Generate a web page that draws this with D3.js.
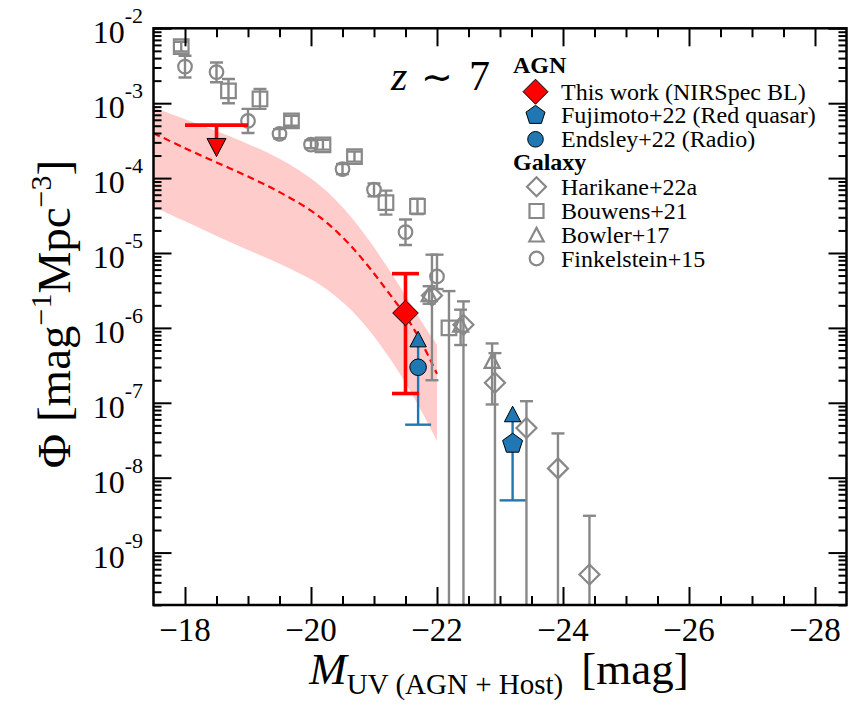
<!DOCTYPE html>
<html><head><meta charset="utf-8">
<script src="https://cdn.jsdelivr.net/npm/d3@7"></script>
<style>
body{margin:0;background:#fff}
svg{display:block}
text{font-family:"Liberation Serif","Times New Roman",serif;fill:#000}
</style>
</head><body>
<svg id="c" width="855" height="712"></svg>
<script>
// ---------------- data ----------------
const xMajorTicks = [-18,-20,-22,-24,-26,-28];
const xTickLabels = ["−18","−20","−22","−24","−26","−28"];
const yTickExponents = [-2,-3,-4,-5,-6,-7,-8,-9];

// model (dashed line) and shaded range
const bandM    = [-17.5,-18.0,-18.5,-19.0,-19.5,-20.0,-20.3,-20.6,-20.9,-21.2,-21.5,-21.75,-22.0];
const modelPhi = [3.98e-4,2.51e-4,1.62e-4,1.05e-4,6.5e-5,3.67e-5,2.34e-5,1.33e-5,6.8e-6,3.2e-6,1.45e-6,6.5e-7,2.43e-7];
const bandHi   = [8.75e-4,6.12e-4,4.26e-4,2.86e-4,1.81e-4,9.9e-5,6.1e-5,3.29e-5,1.56e-5,6.7e-6,2.7e-6,1.23e-6,6.0e-7];
const bandLo   = [4.15e-5,2.65e-5,1.69e-5,1.1e-5,7.2e-6,4.45e-6,3.04e-6,1.85e-6,9.8e-7,4.5e-7,1.84e-7,7.8e-8,3.1e-8];

// Galaxy: Bouwens+21 (squares)
const bouwensM   = [-17.94,-18.69,-19.19,-19.69,-20.19,-20.69,-21.19,-21.69,-22.19];
const bouwensPhi = [5.7e-3,1.46e-3,1.14e-3,5.8e-4,2.78e-4,1.94e-4,4.7e-5,4.2e-5,1.0e-6];
const bouwensLo  = [4.9e-3,1.0e-3,8.4e-4,5.0e-4,2.4e-4,1.66e-4,3.25e-5,3.3e-5,1e-14];
const bouwensHi  = [6.6e-3,2.1e-3,1.55e-3,6.8e-4,3.25e-4,2.27e-4,6.8e-5,5.3e-5,3.1e-6];

// Galaxy: Finkelstein+15 (circles)
const finkM   = [-18.0,-18.5,-19.0,-19.5,-20.0,-20.5,-21.0,-21.5,-22.0];
const finkPhi = [3.08e-3,2.6e-3,5.8e-4,3.9e-4,2.8e-4,1.32e-4,7.0e-5,1.9e-5,4.85e-6];
const finkLo  = [2.2e-3,1.9e-3,4.0e-4,3.4e-4,2.5e-4,1.13e-4,5.7e-5,1.28e-5,3.3e-6];
const finkHi  = [4.3e-3,3.5e-3,8.4e-4,4.5e-4,3.2e-4,1.54e-4,8.5e-5,2.8e-5,9.5e-6];

// Galaxy: Bowler+17 (triangles)
const bowlerM   = [-21.875,-22.375,-22.875];
const bowlerPhi = [2.8e-6,1.1e-6,3.6e-7];
const bowlerLo  = [2.1e-6,5.9e-7,9.5e-8];
const bowlerHi  = [3.6e-6,1.75e-6,6.2e-7];

// Galaxy: Harikane+22a (diamonds)
const harikaneM   = [-21.92,-22.42,-22.92,-23.42,-23.92,-24.42];
const harikanePhi = [2.7e-6,1.1e-6,1.85e-7,4.6e-8,1.33e-8,5.1e-10];
const harikaneLo  = [2.0e-7,1e-14,1e-14,1e-14,1e-14,1e-14];
const harikaneHi  = [9.5e-6,2.26e-6,4.6e-7,1.05e-7,3.9e-8,3.1e-9];

// AGN: this work
const thisWorkM = [-21.5], thisWorkPhi = [1.58e-6], thisWorkLo = [1.33e-7], thisWorkHi = [5.3e-6];
const limitM = [-18.5], limitMLo = [-18.0], limitMHi = [-19.0], limitPhi = [5.1e-4], limitArrowPhi = [2.6e-4];
// AGN: Endsley+22 (circle, lower limit), Fujimoto+22 (pentagon, lower limit)
const endsleyM = [-21.7], endsleyPhi = [2.98e-7], endsleyLo = [5.1e-8], endsleyArrowPhi = [7.0e-7];
const fujimotoM = [-23.2], fujimotoPhi = [2.84e-8], fujimotoLo = [4.98e-9], fujimotoArrowPhi = [7.0e-8];

const agnLegend = ["This work (NIRSpec BL)","Fujimoto+22 (Red quasar)","Endsley+22 (Radio)"];
const galLegend = ["Harikane+22a","Bouwens+21","Bowler+17","Finkelstein+15"];

// ---------------- setup ----------------
const W = 855, H = 712;
const L = 153.5, R = 846.5, T = 28.3, B = 605;
const RED = "#ff0000", BLUE = "#1f77b4", GRAY = "#888888", PINK = "#ffcccc";

const svg = d3.select("#c");
const x = d3.scaleLinear().domain([-17.5,-28.5]).range([L,R]);
const y = d3.scaleLog().domain([Math.pow(10,-9.7),1e-2]).range([B,T]);

svg.append("defs").append("clipPath").attr("id","clip")
  .append("rect").attr("x",L).attr("y",T).attr("width",R-L).attr("height",B-T);
const plot = svg.append("g").attr("clip-path","url(#clip)");

// shape helpers
const polyPath = pts => "M" + pts.map(p=>p[0].toFixed(2)+","+p[1].toFixed(2)).join("L") + "Z";
const shapes = {
  diamond: r => polyPath([[0,-r],[r,0],[0,r],[-r,0]]),
  square: r => polyPath([[-r,-r],[r,-r],[r,r],[-r,r]]),
  triUp: r => polyPath([[0,-r],[r,r*0.9],[-r,r*0.9]]),
  triDown: r => polyPath([[0,r],[r,-r*0.9],[-r,-r*0.9]]),
  circle: r => `M${-r},0A${r},${r} 0 1,0 ${r},0A${r},${r} 0 1,0 ${-r},0Z`,
  pentagon: r => polyPath(d3.range(5).map(k=>{const a=(-90+72*k)*Math.PI/180;return [r*Math.cos(a), r*Math.sin(a)];}))
};

// ---------------- band & model ----------------
const bandData = bandM.map((m,i)=>({m, lo:bandLo[i], hi:bandHi[i], v:modelPhi[i]}));
const crv = d3.curveCatmullRom.alpha(0.5);
plot.append("path").datum(bandData)
  .attr("d", d3.area().x(d=>x(d.m)).y0(d=>y(d.lo)).y1(d=>y(d.hi)).curve(crv))
  .attr("fill", PINK).attr("stroke","none");
plot.append("path").datum(bandData)
  .attr("d", d3.line().x(d=>x(d.m)).y(d=>y(d.v)).curve(crv))
  .attr("fill","none").attr("stroke",RED).attr("stroke-width",2.2).attr("stroke-dasharray","7,4.5");

// ---------------- error bar helper ----------------
function errSeries(M, P, Lo, Hi, opt){
  const g = plot.append("g");
  const d = M.map((m,i)=>({m, v:P[i], lo:Lo[i], hi:Hi[i]}));
  g.selectAll("line.v").data(d).join("line")
    .attr("x1",e=>x(e.m)).attr("x2",e=>x(e.m))
    .attr("y1",e=>Math.min(y(e.lo), 2000)).attr("y2",e=>y(e.hi))
    .attr("stroke",opt.color).attr("stroke-width",opt.lw);
  const caps = [];
  d.forEach(e=>{ caps.push({m:e.m, v:e.lo}); caps.push({m:e.m, v:e.hi}); });
  g.selectAll("line.c").data(caps.filter(c=>c.v>1e-12)).join("line")
    .attr("x1",c=>x(c.m)-opt.cap).attr("x2",c=>x(c.m)+opt.cap)
    .attr("y1",c=>y(c.v)).attr("y2",c=>y(c.v))
    .attr("stroke",opt.color).attr("stroke-width",opt.lw);
  g.selectAll("path").data(d).join("path")
    .attr("transform",e=>`translate(${x(e.m)},${y(e.v)})`)
    .attr("d",shapes[opt.shape](opt.r))
    .attr("fill",opt.fill).attr("stroke",opt.stroke).attr("stroke-width",opt.sw);
}

// gray galaxy points
errSeries(bouwensM,bouwensPhi,bouwensLo,bouwensHi,{color:GRAY,lw:2.4,cap:6.5,shape:"square",r:7.3,fill:"none",stroke:GRAY,sw:2.2});
errSeries(finkM,finkPhi,finkLo,finkHi,{color:GRAY,lw:2.4,cap:6.5,shape:"circle",r:6.8,fill:"none",stroke:GRAY,sw:2.2});
errSeries(bowlerM,bowlerPhi,bowlerLo,bowlerHi,{color:GRAY,lw:2.4,cap:6.5,shape:"triUp",r:7.5,fill:"none",stroke:GRAY,sw:2.2});
errSeries(harikaneM,harikanePhi,harikaneLo,harikaneHi,{color:GRAY,lw:2.4,cap:6.5,shape:"diamond",r:10,fill:"none",stroke:GRAY,sw:2.2});

// ---------------- AGN ----------------
const lim = plot.append("g");
limitM.forEach((m,i)=>{
  lim.append("line").attr("x1",x(limitMLo[i])).attr("x2",x(limitMHi[i]))
    .attr("y1",y(limitPhi[i])).attr("y2",y(limitPhi[i])).attr("stroke",RED).attr("stroke-width",3.6);
  lim.append("line").attr("x1",x(m)).attr("x2",x(m))
    .attr("y1",y(limitPhi[i])).attr("y2",y(limitArrowPhi[i])).attr("stroke",RED).attr("stroke-width",3.6);
  lim.append("path").attr("transform",`translate(${x(m)},${y(limitArrowPhi[i])})`)
    .attr("d",shapes.triDown(9.5)).attr("fill",RED).attr("stroke","#000").attr("stroke-width",1);
});

function lowerLimit(M,P,Lo,A,shape,r){
  const g = plot.append("g");
  M.forEach((m,i)=>{
    g.append("line").attr("x1",x(m)).attr("x2",x(m)).attr("y1",y(Lo[i])).attr("y2",y(A[i]))
      .attr("stroke",BLUE).attr("stroke-width",2.4);
    g.append("line").attr("x1",x(m)-13).attr("x2",x(m)+13).attr("y1",y(Lo[i])).attr("y2",y(Lo[i]))
      .attr("stroke",BLUE).attr("stroke-width",2.4);
    g.append("path").attr("transform",`translate(${x(m)},${y(A[i])})`)
      .attr("d",shapes.triUp(8.2)).attr("fill",BLUE).attr("stroke","#000").attr("stroke-width",1);
    g.append("path").attr("transform",`translate(${x(m)},${y(P[i])})`)
      .attr("d",shapes[shape](r)).attr("fill",BLUE).attr("stroke","#000").attr("stroke-width",1);
  });
}
lowerLimit(endsleyM,endsleyPhi,endsleyLo,endsleyArrowPhi,"circle",8.3);
lowerLimit(fujimotoM,fujimotoPhi,fujimotoLo,fujimotoArrowPhi,"pentagon",10.5);

errSeries(thisWorkM,thisWorkPhi,thisWorkLo,thisWorkHi,{color:RED,lw:3.6,cap:13.5,shape:"diamond",r:12.8,fill:RED,stroke:"#000",sw:1});

// ---------------- axes ----------------
const ax = svg.append("g");
const xMinor = d3.range(-17.5,-28.51,-0.5).filter(v=>!xMajorTicks.includes(v) && v>-28.5 && v<-17.5);
const yMajor = yTickExponents.map(e=>Math.pow(10,e));
const yMinor = [];
for(let e=-10;e<=-3;e++) for(let k=2;k<=9;k++){const v=k*Math.pow(10,e); if(v>Math.pow(10,-9.7)&&v<1e-2) yMinor.push(v);}

function addAxis(gen, tr, vals, size){
  const g = ax.append("g").attr("transform",tr)
    .call(gen.tickValues(vals).tickSize(-size).tickFormat(""));
  g.select(".domain").remove();
  g.selectAll(".tick line").attr("stroke","#000").attr("stroke-width",2);
}
addAxis(d3.axisBottom(x), `translate(0,${B})`, xMajorTicks, 18);
addAxis(d3.axisBottom(x), `translate(0,${B})`, xMinor, 9);
addAxis(d3.axisTop(x), `translate(0,${T})`, xMajorTicks, 18);
addAxis(d3.axisTop(x), `translate(0,${T})`, xMinor, 9);
addAxis(d3.axisLeft(y), `translate(${L},0)`, yMajor, 18);
addAxis(d3.axisLeft(y), `translate(${L},0)`, yMinor, 8);
addAxis(d3.axisRight(y), `translate(${R},0)`, yMajor, 18);
addAxis(d3.axisRight(y), `translate(${R},0)`, yMinor, 8);

ax.append("rect").attr("x",L).attr("y",T).attr("width",R-L).attr("height",B-T)
  .attr("fill","none").attr("stroke","#000").attr("stroke-width",2.5);

ax.selectAll("text.xl").data(xMajorTicks).join("text")
  .attr("x",d=>x(d)).attr("y",641).attr("text-anchor","middle")
  .attr("font-size",33).text((d,i)=>xTickLabels[i]);

yTickExponents.forEach(e=>{
  const t = ax.append("text").attr("x",143).attr("y",y(Math.pow(10,e))+15).attr("text-anchor","end");
  t.append("tspan").attr("font-size",32).text("10");
  t.append("tspan").attr("font-size",22).attr("dy",-20).text("-"+(-e));
});

// x label
const xl = svg.append("text").attr("x",499).attr("y",684).attr("text-anchor","middle");
xl.append("tspan").attr("font-size",45).attr("font-style","italic").text("M");
xl.append("tspan").attr("font-size",29).attr("dy",10).text("UV (AGN + Host)");
xl.append("tspan").attr("font-size",45).attr("dy",-10).attr("dx",18).text("[mag]");

// y label
const yl = svg.append("text").attr("transform","translate(70,314) rotate(-90)").attr("text-anchor","middle");
yl.append("tspan").attr("font-size",47).text("Φ [mag");
yl.append("tspan").attr("font-size",30).attr("dy",-19).text("−1");
yl.append("tspan").attr("font-size",47).attr("dy",19).text("Mpc");
yl.append("tspan").attr("font-size",30).attr("dy",-19).text("−3");
yl.append("tspan").attr("font-size",47).attr("dy",19).text("]");

// z ~ 7
const zt = svg.append("text").attr("y",90);
zt.append("tspan").attr("x",391).attr("font-size",42).attr("font-style","italic").text("z");
zt.append("tspan").attr("x",421).attr("font-size",38).attr("font-family","DejaVu Sans").text("∼");
zt.append("tspan").attr("x",469).attr("font-size",42).text("7");

// ---------------- legend ----------------
const lg = svg.append("g");
lg.append("text").attr("x",513).attr("y",73).attr("font-size",24).attr("font-weight","bold").text("AGN");
lg.append("text").attr("x",513).attr("y",170).attr("font-size",24).attr("font-weight","bold").text("Galaxy");
const agnRowsY = [91.7,115.3,139.3];
const agnShapes = [["diamond",12.5,RED],["pentagon",10,BLUE],["circle",7.8,BLUE]];
agnLegend.forEach((s,i)=>{
  lg.append("path").attr("transform",`translate(535.5,${agnRowsY[i]})`)
    .attr("d",shapes[agnShapes[i][0]](agnShapes[i][1])).attr("fill",agnShapes[i][2]).attr("stroke","#000").attr("stroke-width",1);
  lg.append("text").attr("x",561).attr("y",agnRowsY[i]+8).attr("font-size",24).text(s);
});
const galRowsY = [186.7,211,235,258.5];
const galShapes = [["diamond",9.5],["square",7],["triUp",7.2],["circle",6.8]];
galLegend.forEach((s,i)=>{
  lg.append("path").attr("transform",`translate(536.5,${galRowsY[i]})`)
    .attr("d",shapes[galShapes[i][0]](galShapes[i][1])).attr("fill","none").attr("stroke",GRAY).attr("stroke-width",2.2);
  lg.append("text").attr("x",561).attr("y",galRowsY[i]+8).attr("font-size",24).text(s);
});
</script>
</body></html>
